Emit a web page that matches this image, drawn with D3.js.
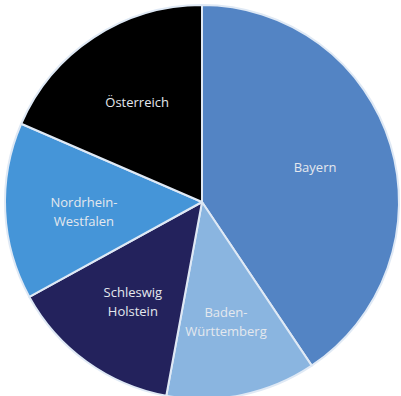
<!DOCTYPE html>
<html>
<head>
<meta charset="utf-8">
<script src="https://cdn.jsdelivr.net/npm/d3@7"></script>
<style>
  body { margin: 0; background: #fff; }
  svg { display: block; }
  .label { font-family: "Open Sans", sans-serif; font-size: 13px; fill: #e4e8ee; }
</style>
</head>
<body>
<div id="chart"></div>
<script>
// slice data, clockwise from 12 o'clock
var regions = ["Bayern", "Baden-Württemberg", "Schleswig Holstein", "Nordrhein-Westfalen", "Österreich"];
var shares  = [40.6, 12.3, 14.1, 14.5, 18.5];
var labelLines = [["Bayern"], ["Baden-", "Württemberg"], ["Schleswig", "Holstein"], ["Nordrhein-", "Westfalen"], ["Österreich"]];
var colors  = ["#5384c4", "#8ab5e0", "#23225c", "#4595d8", "#000000"];

var width = 401, height = 396,
    cx = 202, cy = 202, radius = 197;

var svg = d3.select("#chart").append("svg")
    .attr("width", width)
    .attr("height", height);

var g = svg.append("g")
    .attr("transform", "translate(" + cx + "," + cy + ")");

var data = regions.map(function (r, i) {
  return { name: r, value: shares[i], lines: labelLines[i], color: colors[i] };
});

var pie = d3.pie()
    .sort(null)
    .value(function (d) { return d.value; });

var arc = d3.arc().innerRadius(0).outerRadius(radius);
var labelArc = d3.arc().innerRadius(radius * 0.6).outerRadius(radius * 0.6);

var arcs = pie(data);

g.selectAll("path.slice")
  .data(arcs)
  .enter()
  .append("path")
  .attr("class", "slice")
  .attr("d", arc)
  .attr("fill", function (d) { return d.data.color; })
  .attr("stroke", "#dfe9f5")
  .attr("stroke-width", 2)
  .attr("stroke-linejoin", "round");

var labels = g.selectAll("text.label")
  .data(arcs)
  .enter()
  .append("text")
  .attr("class", "label")
  .attr("text-anchor", "middle")
  .attr("transform", function (d) {
    var c = labelArc.centroid(d);
    var n = d.data.lines.length;
    // two-line labels sit a little lower than the centroid
    var dy = n > 1 ? -0.5 : 4;
    return "translate(" + c[0] + "," + (c[1] + dy) + ")";
  });

labels.selectAll("tspan")
  .data(function (d) { return d.data.lines; })
  .enter()
  .append("tspan")
  .attr("x", 0)
  .attr("dy", function (d, i) { return i === 0 ? 0 : 19; })
  .text(function (d) { return d; });
</script>
</body>
</html>
